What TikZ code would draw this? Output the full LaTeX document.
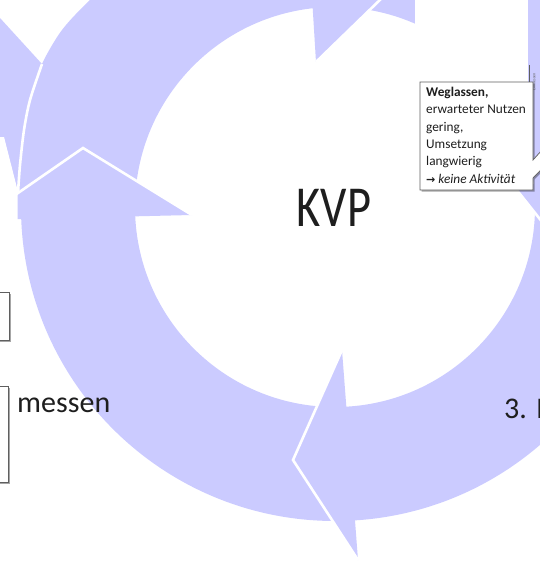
\documentclass[tikz,border=0pt]{standalone}
\usepackage{fontspec}
\setmainfont{Carlito}
\newfontfamily\djv{DejaVu Sans}
\usetikzlibrary{shadows}
\definecolor{ringblue}{RGB}{203,203,255}
\definecolor{boxgray}{RGB}{95,95,95}
\definecolor{txt}{RGB}{30,30,30}
\begin{document}
\begin{tikzpicture}[x=1pt,y=-1pt,
  band/.style={fill=ringblue},
  sep/.style={draw=white,line width=2.6pt,line join=miter},
  boxed/.style={draw=boxgray,fill=white,line width=0.7pt,
     drop shadow={shadow xshift=1.5pt,shadow yshift=-1.5pt,opacity=0.35,fill=black}},
]
\useasboundingbox (0,0) rectangle (539,562);
\fill[white] (0,0) rectangle (539,562);
\coordinate (C) at (335,207);
% ring
\fill[band,even odd rule] (C) circle[radius=314] (C) circle[radius=200];
% top-left arrow bulge
\fill[band] (120,130) -- (60,215) -- plot[smooth] coordinates {(18,193) (20,165) (24,130) (30,100) (42,64) (62,30) (90,0) (130,-35)} -- (300,-60) -- cycle;
% top-left corner shape
\fill[band] (0,18) -- plot[smooth] coordinates {(42,64) (30,100) (24,130) (20,165) (18,193)} -- (4,138) -- (0,138) -- cycle;
\draw[sep] plot[smooth] coordinates {(42,64) (30,100) (24,130) (20,165) (18,193)};
% arrowheads
\fill[band] (192,215) -- (83,148) -- (-21,220) -- cycle;
\draw[sep] (192,215) -- (83,148) -- (-21,220);
\fill[band] (316,62) -- (418,-37) -- (303,-150) -- cycle;
\draw[sep] (316,62) -- (418,-37) -- (303,-150);
\fill[band] (342,350) -- (293,460) -- (358,560) -- cycle;
\draw[sep] (342,350) -- (293,460) -- (358,560);
\fill[band] (512,184) -- (570,257) -- (570,184) -- cycle;
\draw[sep] (512,184) -- (570,257);
% white cover at left
\fill[white] (-2,137) -- (4,137) -- (17.5,190) -- (17.5,225) -- (-2,225) -- cycle;
% white cover top right
\fill[white] (415,-2) rectangle (528,147);
% narrow box
\draw[boxgray, line width=0.7pt] (529,65) -- (529,147);
\node[rotate=90, inner sep=0, font=\fontsize{4}{4}\selectfont, text=boxgray] (ein) at (534,82) {Einmessen};
% callout
\draw[boxed] (420,82) -- (533,82) -- (533,160) -- (560,130) -- (560,150) -- (533,178) -- (533,190) -- (420,190) -- cycle;
\node[anchor=north west, inner sep=0, align=left, font=\fontsize{13.3}{17.3}\selectfont, text=txt] (ct) at (426,87)
  {\textbf{Weglassen,}\\ erwarteter Nutzen\\ gering,\\ Umsetzung\\ langwierig\\ {\djv\bfseries\fontsize{11}{17.3}\selectfont →} \textit{keine Aktivität}};
% left boxes
\draw[boxed] (-5,292) rectangle (9,340);
\draw[boxed] (-5,386) rectangle (8,482);
% texts
\node[anchor=base, inner sep=0, xscale=0.8, font=\fontsize{58}{60}\selectfont, text=txt] (kvp) at (334,226) {KVP};
\node[anchor=base west, inner sep=0, font=\fontsize{30}{32}\selectfont, text=txt] (messen) at (17,412) {messen};
\node[anchor=base west, inner sep=0, font=\fontsize{30}{32}\selectfont, text=txt] (drei) at (504,418) {3. I};
\end{tikzpicture}
\end{document}
